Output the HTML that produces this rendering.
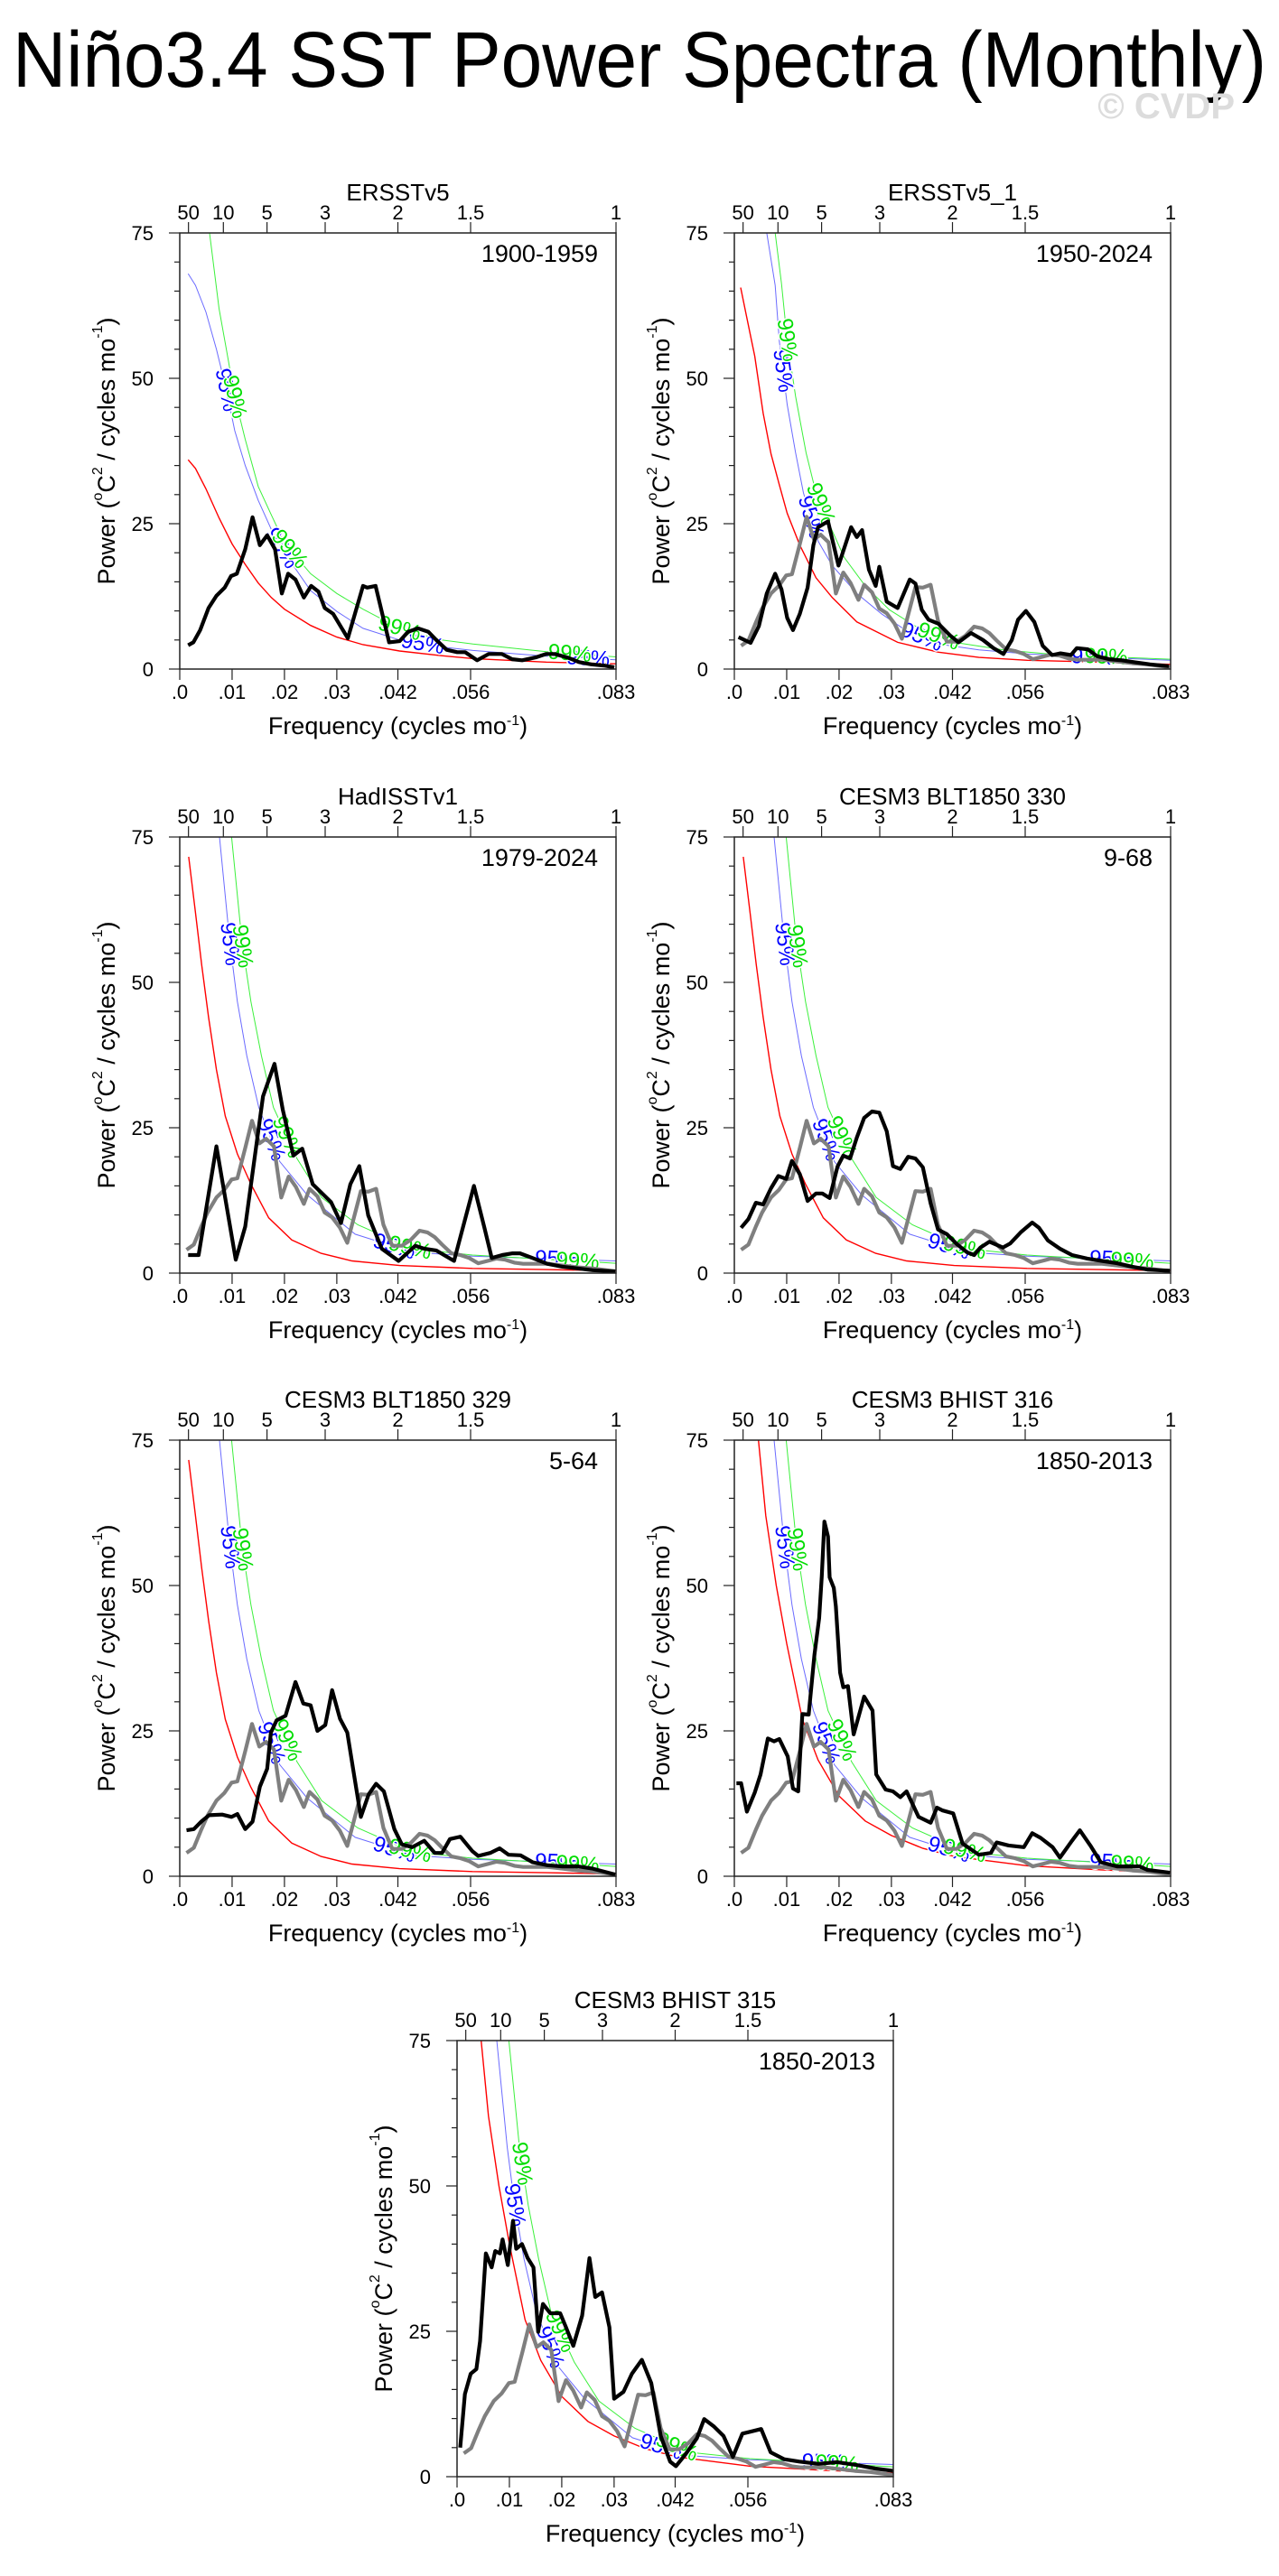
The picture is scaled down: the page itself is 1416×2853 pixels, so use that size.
<!DOCTYPE html>
<html><head><meta charset="utf-8"><title>Niño3.4 SST Power Spectra</title>
<style>html,body{margin:0;padding:0;background:#fff}svg{display:block}text{font-family:"Liberation Sans",Arial,sans-serif}</style>
</head><body>
<svg id="fig" xmlns="http://www.w3.org/2000/svg" width="1416" height="2853" viewBox="0 0 1416 2853">
<rect x="0" y="0" width="1416" height="2853" fill="#fff"/>
<text x="14" y="96" font-size="87" textLength="1388" lengthAdjust="spacingAndGlyphs" fill="#000">Niño3.4 SST Power Spectra (Monthly)</text>
<text x="1367" y="131" font-size="40" font-weight="bold" text-anchor="end" fill="#dcdcdc">© CVDP</text>
</svg>
<script>
// ---- axis data ----
const xTickVals = [0, 0.01, 0.02, 0.03, 1/24, 1/18, 1/12];
const xTickLabels = ['.0', '.01', '.02', '.03', '.042', '.056', '.083'];
const topPeriods = [50, 10, 5, 3, 2, 1.5, 1];
const topLabels = ['50', '10', '5', '3', '2', '1.5', '1'];
const yTickVals = [0, 25, 50, 75];
const yTickLabels = ['0', '25', '50', '75'];
const panelTitles = ['ERSSTv5', 'ERSSTv5_1', 'HadISSTv1', 'CESM3 BLT1850 330', 'CESM3 BLT1850 329', 'CESM3 BHIST 316', 'CESM3 BHIST 315'];
const panelPeriods = ['1900-1959', '1950-2024', '1979-2024', '9-68', '5-64', '1850-2013', '1850-2013'];

// ---- reference (gray) spectrum, shared by panels 2-7 ----
const refFreq = [.0013,.0027,.0041,.0053,.007,.0085,.0099,.011,.0125,.0138,.0152,.0165,.018,.0194,.0208,.0222,.0237,.0248,.0263,.0277,.0291,.0306,.032,.0332,.0346,.036,.0375,.0389,.0406,.0424,.0441,.0458,.0473,.0487,.0501,.0519,.0536,.0553,.057,.0588,.0605,.0622,.0639,.0656,.0674,.0702,.0731,.076,.0789,.0832];
const refPower = [4,4.9,8,10.4,13,14.3,16.1,16.3,21.5,26.2,22.3,23.1,21.8,13,16.6,14.8,11.9,14.5,13.2,10.4,9.6,7.8,5.2,9.3,14.1,14,14.5,8.3,4.7,4.7,5.7,7.3,7,6.2,4.9,3.4,3.1,2.6,1.7,2.1,2.5,2.3,1.8,1.6,1.6,1.6,1.3,1,0.8,0.3];

// ---- panel 1: ERSSTv5 1900-1959 ----
const p1Freq = [.0016,.0026,.0039,.0055,.007,.0086,.0098,.0109,.0125,.0139,.0153,.0167,.0182,.0195,.0207,.0221,.0237,.0251,.0265,.0277,.0293,.0307,.0321,.035,.0358,.0374,.040,.042,.0436,.0455,.0475,.049,.051,.053,.0545,.0568,.059,.0615,.0635,.0654,.068,.070,.0716,.074,.0763,.0786,.081,.083];
const p1Power = [4.1,4.6,6.7,10.5,12.6,14,16,16.4,20.6,26.1,21.3,23,20.6,13,16.4,15.4,12.3,14.3,13.3,10.5,9.5,7.4,5.3,14.3,14,14.3,4.6,4.8,6.4,7,6.4,5,3.3,2.9,2.9,1.5,2.6,2.6,1.7,1.5,2,2.6,2.6,2,1.2,0.8,0.6,0.3];
const p1RedFreq = [.0016,.003,.005,.0075,.01,.0125,.015,.0175,.02,.025,.03,.035,.042,.05,.056,.07,.0833];
const p1Red = [36,34.5,31,26,21.5,18,14.8,12.3,10.3,7.5,5.5,4.2,3.1,2.3,1.8,1.2,0.9];
const p1BlueFreq = [.0016,.003,.005,.007,.0089,.0105,.0125,.015,.0175,.02,.025,.03,.035,.042,.05,.056,.07,.0833];
const p1Blue = [68,66,61.4,55,48,41,35,29,24,20,13.5,9.9,7,5,3.8,3.2,2.2,1.6];
const p1GreenFreq = [.0057,.0075,.0089,.0105,.0125,.015,.0175,.02,.025,.03,.035,.042,.05,.056,.07,.0833];
const p1Green = [75,62,55,46.8,39.5,31.4,26.5,21.7,16.4,13,10.3,7,5,4.3,3,2.1];

// ---- panel 2: ERSSTv5_1 1950-2024 ----
const p2Freq = [.0008,.0031,.0047,.0062,.0078,.009,.0101,.0112,.0125,.014,.0151,.016,.0179,.0199,.0223,.0234,.0244,.0257,.027,.0277,.0291,.0312,.0335,.0346,.0358,.0371,.039,.0413,.0428,.0452,.0475,.0495,.0514,.053,.0542,.0557,.0573,.0589,.0607,.0623,.0643,.0654,.0675,.0693,.0716,.074,.0763,.0794,.083];
const p2Power = [5.5,4.5,7.4,13,16.4,13.7,8.8,6.7,9.5,14,21.3,24.4,25.4,17.8,24.4,22.7,23.9,17.1,14.3,17.6,11.6,10.5,15.4,14.7,10.2,8.5,7.8,5.7,4.6,6.2,5,3.6,2.6,5,8.5,10,8.1,4,2.4,2.7,2.4,3.6,3.4,2.2,1.7,1.5,1.2,0.8,0.5];
const p2RedFreq = [.0012,.0023,.0039,.0055,.007,.0086,.0101,.0125,.0156,.0187,.0234,.0312,.039,.0467,.056,.07,.0833];
const p2Red = [65.6,60.8,53.8,44,37,31.7,26.8,21.3,15.7,12.3,8.1,4.6,2.9,2,1.5,1.2,0.8];
const p2BlueFreq = [.0062,.0078,.0086,.0101,.0117,.0132,.016,.0187,.0234,.0281,.0327,.039,.0467,.056,.07,.0833];
const p2Blue = [75,66,56.4,45.5,37.2,30.3,22,17.8,13,9.5,6.7,4.3,3.3,2.6,2,1.5];
const p2GreenFreq = [.0078,.009,.0101,.0117,.0137,.0156,.0179,.021,.025,.0296,.0358,.042,.0514,.0623,.0833];
const p2Green = [75,66.3,56.6,46.9,37.2,30.3,25.4,19.2,14.3,10.2,6.7,4.6,3.3,2.4,1.7];

// ---- shared model significance curves (panels 3-7) ----
const modRedFreq = [.0017,.003,.0042,.0055,.007,.0087,.011,.0136,.017,.0214,.027,.0329,.042,.0559,.07,.0833];
const modRed = [71.6,62,53,44,35,27,20.5,15.3,9.5,5.7,3.4,2.1,1.3,0.8,0.6,0.4];
const histRedFreq = [.0046,.006,.008,.01,.013,.016,.02,.025,.03,.036,.042,.056,.07,.0833];
const histRed = [75,62,50,40,27,20,13.8,9.5,7,4.8,3.4,1.8,1.1,0.6];
const modBlueFreq = [.0076,.0096,.011,.0128,.0151,.0191,.0243,.0335,.0444,.0559,.0833];
const modBlue = [75,56.6,46.7,37.4,28.5,19.2,13.5,6.7,3.6,2.9,2.1];
const modGreenFreq = [.0099,.0119,.0136,.0156,.0179,.0224,.0271,.034,.0444,.0559,.0833];
const modGreen = [75,56.8,46.7,37.4,28.5,19.7,13,8.3,4.2,3.1,1.7];

// ---- panel 3: HadISSTv1 ----
const p3Freq = [.0016,.0036,.007,.0107,.0125,.0159,.0181,.0197,.0217,.0234,.0254,.0289,.0308,.0326,.0343,.036,.0386,.0418,.045,.0467,.049,.0524,.0562,.0582,.0596,.0616,.0636,.065,.0674,.0702,.0731,.076,.0789,.0832];
const p3Power = [3.1,3.1,21.8,2.3,8,30.4,36,28,20.2,21.4,15.3,12.2,8.6,15.3,18.4,9.9,4.2,2.1,4.7,4.2,3.9,2.1,15,7.8,2.6,3.1,3.4,3.4,2.6,1.6,1.1,0.8,0.5,0.3];

// ---- panel 4: CESM3 BLT1850 330 ----
const p4Freq = [.0013,.0027,.0041,.0055,.007,.0084,.0099,.011,.0125,.014,.0156,.0168,.0182,.0197,.0208,.0221,.0234,.0248,.0263,.0277,.0291,.0303,.0317,.0332,.0346,.036,.0375,.0389,.0406,.0426,.0444,.0458,.047,.0487,.0513,.0527,.0547,.0569,.0582,.0599,.0622,.0645,.0674,.0702,.0731,.076,.0789,.0832];
const p4Power = [7.8,9.3,12.1,11.8,14.6,16.7,16.2,19.3,17,12.4,13.7,13.7,12.9,18.3,20.2,19.7,23.3,26.7,27.8,27.6,24.4,18.4,17.9,20,19.7,18.2,12,7.5,6.7,4.9,3.6,3.1,4.4,5.4,4.4,5.1,7,8.7,7.8,5.6,4.2,3.1,2.5,2.1,1.7,1.1,0.6,0.4];

// ---- panel 5: CESM3 BLT1850 329 ----
const p5Freq = [.0013,.0027,.0041,.0056,.0081,.0099,.011,.0125,.0139,.0153,.0167,.0174,.0185,.0202,.0221,.0236,.025,.0263,.0278,.0291,.0306,.032,.0332,.0346,.0361,.0375,.039,.041,.0424,.0444,.0467,.0487,.0501,.0516,.0536,.0559,.057,.0593,.0611,.0628,.0651,.0674,.0702,.0731,.076,.0789,.0832];
const p5Power = [7.9,8.1,9.4,10.5,10.6,10.2,10.7,8.1,9.4,15.4,18.5,24.7,26.8,27.6,33.4,29.7,29.4,25,26,32,27.1,24.7,18,10.2,14.1,15.9,14.6,8.1,5.5,5,6.1,4,4,6.4,6.8,4.3,3.5,4,4.8,3.7,3.6,2.4,1.9,1.7,1.7,1.3,0.3];

// ---- panel 6: CESM3 BHIST 316 ----
const p6Freq = [.0004,.0013,.0024,.0039,.005,.0064,.0076,.0086,.0102,.0112,.0122,.013,.0142,.0153,.0162,.0167,.0172,.0179,.0182,.019,.0194,.0202,.0208,.0217,.0228,.0248,.0264,.0271,.0289,.0303,.0317,.0329,.0352,.0375,.0387,.0398,.0418,.0436,.0467,.049,.0501,.0524,.0553,.0569,.0585,.0608,.0622,.0645,.066,.068,.07,.0731,.0774,.0789,.0832];
const p6Power = [16,16,11.1,14.4,17.5,23.7,23.2,23.6,20.6,15.1,14.6,27.9,27.8,38.1,44.4,51.6,61,58.4,51.4,49.6,46.4,35,32.5,32.7,24.4,30.9,28.5,17.5,14.9,14.6,13.6,14.6,10.2,9.2,11.8,11.3,10.8,5.6,3.7,4,5.8,5.3,5,7.4,6.6,5,3.2,6.1,7.9,5.3,2.4,1.7,1.7,1.1,0.6];

// ---- panel 7: CESM3 BHIST 315 ----
const p7Freq = [.0006,.0015,.0026,.0037,.0044,.0055,.0066,.0073,.0082,.0087,.0097,.0107,.0113,.0124,.0135,.0146,.0155,.0164,.0178,.0197,.0208,.0222,.0239,.0253,.0264,.0277,.0291,.03,.0318,.0334,.0353,.0371,.0389,.0407,.0418,.0436,.0458,.0472,.0491,.0509,.0527,.0545,.0563,.0581,.0599,.0625,.0654,.069,.0726,.0763,.0799,.0833];
const p7Power = [5,14.2,17.7,18.5,23.3,38.4,36,38.8,38.4,40.8,36.4,44,39.2,40,37.6,36,24.9,29.7,28.1,28.1,25.7,22.5,27.7,37.6,30.9,31.7,25.7,13.4,14.6,17.7,20.1,16.1,7,2.6,1.8,3.8,6.6,9.9,8.6,7,3.4,7.4,7.8,8.2,4.2,3,2.6,2.2,2.5,2,1.4,1];

// ---- significance label frequencies ----
const p1Lab95 = [.0089,.0195,.0464,.078];
const p1Lab99 = [.0105,.021,.042,.0745];
const p2Lab95 = [.0093,.0146,.0358,.0685];
const p2Lab99 = [.0101,.0165,.039,.071];
const modLab95 = [.0096,.0175,.041,.072];
const modLab99 = [.012,.0205,.044,.076];

// ---- layout (not data) ----
const PW = 483, PH = 483, FMAX = 1/12, YMAX = 75;
const panels = [
  {left:199, top:258, f:p1Freq, v:p1Power, gray:false, rf:p1RedFreq, rv:p1Red, bf:p1BlueFreq, bv:p1Blue, gf:p1GreenFreq, gv:p1Green, l95:p1Lab95, l99:p1Lab99},
  {left:813, top:258, f:p2Freq, v:p2Power, gray:true, rf:p2RedFreq, rv:p2Red, bf:p2BlueFreq, bv:p2Blue, gf:p2GreenFreq, gv:p2Green, l95:p2Lab95, l99:p2Lab99},
  {left:199, top:927, f:p3Freq, v:p3Power, gray:true, rf:modRedFreq, rv:modRed, bf:modBlueFreq, bv:modBlue, gf:modGreenFreq, gv:modGreen, l95:modLab95, l99:modLab99},
  {left:813, top:927, f:p4Freq, v:p4Power, gray:true, rf:modRedFreq, rv:modRed, bf:modBlueFreq, bv:modBlue, gf:modGreenFreq, gv:modGreen, l95:modLab95, l99:modLab99},
  {left:199, top:1595, f:p5Freq, v:p5Power, gray:true, rf:modRedFreq, rv:modRed, bf:modBlueFreq, bv:modBlue, gf:modGreenFreq, gv:modGreen, l95:modLab95, l99:modLab99},
  {left:813, top:1595, f:p6Freq, v:p6Power, gray:true, rf:histRedFreq, rv:histRed, bf:modBlueFreq, bv:modBlue, gf:modGreenFreq, gv:modGreen, l95:modLab95, l99:modLab99},
  {left:506, top:2260, f:p7Freq, v:p7Power, gray:true, rf:histRedFreq, rv:histRed, bf:modBlueFreq, bv:modBlue, gf:modGreenFreq, gv:modGreen, l95:[.011,.0178,.039,.070], l99:[.0124,.0197,.042,.0726]}
];

const NS = 'http://www.w3.org/2000/svg';
const svg = document.getElementById('fig');
function el(tag, attrs, parent) {
  const e = document.createElementNS(NS, tag);
  for (const k in attrs) e.setAttribute(k, attrs[k]);
  (parent || svg).appendChild(e);
  return e;
}
function sx(p, f) { return p.left + f / FMAX * PW; }
function sy(p, v) { return p.top + PH - v / YMAX * PH; }
function pathD(p, fs, vs) {
  let d = '';
  for (let i = 0; i < fs.length; i++) d += (i ? 'L' : 'M') + sx(p, fs[i]).toFixed(1) + ',' + sy(p, vs[i]).toFixed(1);
  return d;
}
function interp(fs, vs, f) {
  if (f <= fs[0]) return vs[0];
  for (let i = 1; i < fs.length; i++) if (f <= fs[i]) { const t = (f - fs[i-1]) / (fs[i] - fs[i-1]); return vs[i-1] + t * (vs[i] - vs[i-1]); }
  return vs[vs.length - 1];
}

panels.forEach((p, i) => {
  const g = el('g', {});
  
  
  const cid = 'clip' + i;
  const cp = el('clipPath', {id: cid}, g);
  el('rect', {x: p.left, y: p.top, width: PW, height: PH}, cp);

  const t = el('text', {x: p.left + PW / 2, y: p.top - 36, 'font-size': 26, 'text-anchor': 'middle'}, g);
  
  
  t.textContent = panelTitles[i];

  const pl = el('text', {x: p.left + PW - 20, y: p.top + 32, 'font-size': 27, 'text-anchor': 'end'}, g);
  
  
  pl.textContent = panelPeriods[i];

  const cg = el('g', {'clip-path': 'url(#' + cid + ')'}, g);
  const red = el('path', {d: pathD(p, p.rf, p.rv), fill: 'none', stroke: '#ff0000', 'stroke-width': 1.4}, cg);
  
  
  const blue = el('path', {d: pathD(p, p.bf, p.bv), fill: 'none', stroke: '#6b6bff', 'stroke-width': 1}, cg);
  
  
  const green = el('path', {d: pathD(p, p.gf, p.gv), fill: 'none', stroke: '#3cf03c', 'stroke-width': 1}, cg);
  
  

  // confidence labels (before data lines, with white halo to mimic curve gaps)
  [[p.l95, p.bf, p.bv, '95%', '#0000ff'], [p.l99, p.gf, p.gv, '99%', '#00dd00']].forEach(([fs, cf, cv, txt, col]) => {
    fs.forEach(f => {
      const v = interp(cf, cv, f);
      const x = sx(p, f), y = sy(p, v);
      const x2 = sx(p, f + 0.001), y2 = sy(p, interp(cf, cv, f + 0.001));
      const ang = Math.atan2(y2 - y, x2 - x) * 180 / Math.PI;
      const lt = el('text', {x: x, y: y, 'font-size': 24, 'text-anchor': 'middle', 'dominant-baseline': 'central', fill: col, stroke: '#fff', 'stroke-width': 3, 'paint-order': 'stroke', transform: 'rotate(' + ang.toFixed(1) + ' ' + x.toFixed(1) + ' ' + y.toFixed(1) + ')'}, g);
      
      
      lt.textContent = txt;
    });
  });

  const cg2 = el('g', {'clip-path': 'url(#' + cid + ')'}, g);
  if (p.gray) {
    const gr = el('path', {d: pathD(p, refFreq, refPower), fill: 'none', stroke: '#7f7f7f', 'stroke-width': 4.2, 'stroke-linejoin': 'round'}, cg2);
    
    
  }
  const bl = el('path', {d: pathD(p, p.f, p.v), fill: 'none', stroke: '#000', 'stroke-width': 4.2, 'stroke-linejoin': 'round'}, cg2);
  
  

  const fr = el('rect', {x: p.left, y: p.top, width: PW, height: PH, fill: 'none', stroke: '#222', 'stroke-width': 1.5}, g);
  
  

  for (let v = 0; v <= 75; v += 5) {
    const major = v % 25 === 0;
    const tk = el('line', {x1: p.left - (major ? 12 : 6), x2: p.left, y1: sy(p, v), y2: sy(p, v), stroke: '#222', 'stroke-width': 1.2}, g);
    
    
  }
  yTickVals.forEach((v, k) => {
    const yl = el('text', {x: p.left - 29, y: sy(p, v) + 8, 'font-size': 22, 'text-anchor': 'end'}, g);
    
    
    yl.textContent = yTickLabels[k];
  });
  xTickVals.forEach((f, k) => {
    const tk = el('line', {x1: sx(p, f), x2: sx(p, f), y1: p.top + PH, y2: p.top + PH + 12, stroke: '#222', 'stroke-width': 1.2}, g);
    
    
    const xl = el('text', {x: sx(p, f), y: p.top + PH + 33, 'font-size': 22, 'text-anchor': 'middle'}, g);
    
    
    xl.textContent = xTickLabels[k];
  });
  topPeriods.forEach((per, k) => {
    const f = 1 / (12 * per);
    const tk = el('line', {x1: sx(p, f), x2: sx(p, f), y1: p.top, y2: p.top - 12, stroke: '#222', 'stroke-width': 1.2}, g);
    
    
    const tl = el('text', {x: sx(p, f), y: p.top - 15, 'font-size': 22, 'text-anchor': 'middle'}, g);
    
    
    tl.textContent = topLabels[k];
  });
  const xt = el('text', {x: p.left + PW / 2, y: p.top + PH + 72, 'font-size': 27, 'text-anchor': 'middle'}, g);
  
  
  xt.innerHTML = 'Frequency (cycles mo<tspan dy="-10" font-size="16">-1</tspan><tspan dy="10">)</tspan>';
  const cx = p.left - 81, cy = p.top + PH / 2;
  const yt = el('text', {x: cx, y: cy, 'font-size': 27, 'text-anchor': 'middle', 'dominant-baseline': 'central', transform: 'rotate(-90 ' + cx + ' ' + cy + ')'}, g);
  
  
  yt.innerHTML = 'Power (<tspan dy="-10" font-size="16">o</tspan><tspan dy="10">C</tspan><tspan dy="-10" font-size="16">2</tspan><tspan dy="10"> / cycles mo</tspan><tspan dy="-10" font-size="16">-1</tspan><tspan dy="10">)</tspan>';
});
</script>
</body></html>
